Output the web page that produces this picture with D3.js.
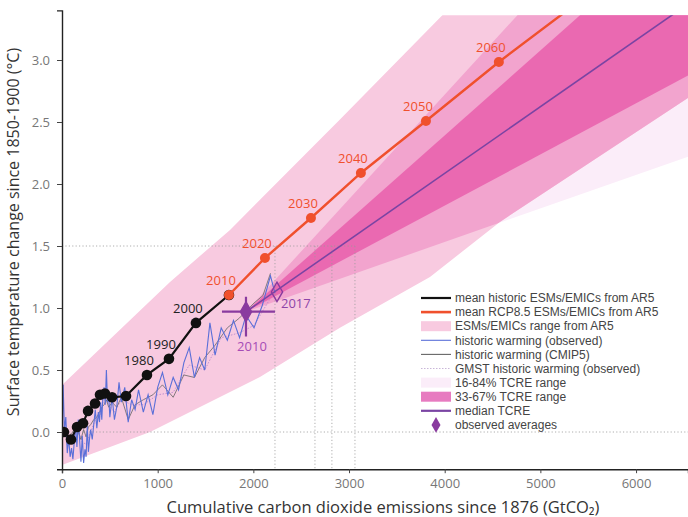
<!DOCTYPE html>
<html><head><meta charset="utf-8">
<script src="https://cdn.jsdelivr.net/npm/d3@7"></script>
<style>
body{margin:0;background:#fff;}
svg{display:block;font-family:"Open Sans",sans-serif;}
</style></head><body><svg id="c" width="688" height="517"></svg>
<script>
// ---------- data ----------
const xTicks = [0, 1000, 2000, 3000, 4000, 5000, 6000];
const yTicks = [0, 0.5, 1.0, 1.5, 2.0, 2.5, 3.0];

// mean historic ESMs/EMICs (decadal)
const histYears = [1880, 1890, 1900, 1910, 1920, 1930, 1940, 1950, 1960, 1970, 1980, 1990, 2000, 2010];
const histX = [20, 94, 157, 220, 272, 345, 397, 449, 523, 669, 888, 1118, 1400, 1745];
const histY = [0.0, -0.06, 0.04, 0.07, 0.17, 0.23, 0.30, 0.31, 0.28, 0.29, 0.46, 0.59, 0.88, 1.105];
const histLabelled = [1980, 1990, 2000];

// mean RCP8.5 ESMs/EMICs
const rcpYears = [2010, 2020, 2030, 2040, 2050, 2060, 2070];
const rcpX = [1745, 2121, 2602, 3124, 3804, 4566, 5400];
const rcpY = [1.105, 1.403, 1.726, 2.089, 2.508, 2.984, 3.47];

// ESMs/EMICs range from AR5
const esmUpperX = [0, 1129, 1756, 2905, 4076, 5000, 6800];
const esmUpperY = [0.38, 1.21, 1.63, 2.52, 3.44, 4.2, 4.2];
const esmLowerX = [0, 920, 2069, 2905, 3846, 4577, 6542, 6800];
const esmLowerY = [-0.266, 0.0, 0.444, 0.84, 1.25, 1.694, 2.694, 2.83];

// TCRE fans from the 2010 observed average
const tcreX = [1923, 6800];
const tcre16 = [0.97, 2.29];
const tcre33 = [0.97, 2.98];
const tcreMed = [0.97, 3.59];
const tcre67 = [0.97, 4.31];
const tcre84 = [0.97, 5.08];

// historic warming (observed)
const obsLineX = [0, 12, 25, 40, 55, 70, 85, 100, 114, 128, 142, 156, 170, 184, 198, 212, 226, 240, 252, 264, 276, 288, 300, 316, 332, 348, 364, 380, 392, 404, 416, 428, 440, 452, 464, 476, 488, 500, 524, 548, 572, 596, 620, 656, 692, 728, 764, 800, 850, 900, 950, 1000, 1050, 1106, 1162, 1218, 1274, 1330, 1384, 1438, 1492, 1546, 1600, 1664, 1728, 1792, 1856, 1923, 2007, 2093, 2179, 2226];
const obsLineY = [-0.10, 0.38, 0.02, 0.12, -0.17, -0.05, -0.20, -0.13, -0.22, -0.08, 0.06, -0.12, 0.10, -0.06, -0.24, -0.03, -0.25, -0.14, -0.20, 0.05, -0.16, -0.05, 0.02, -0.06, 0.06, 0.18, 0.03, 0.16, 0.08, 0.24, 0.10, 0.30, 0.36, 0.22, 0.50, 0.24, 0.30, 0.12, 0.28, 0.10, 0.20, 0.40, 0.24, 0.36, 0.08, 0.26, 0.18, 0.34, 0.16, 0.30, 0.14, 0.36, 0.48, 0.30, 0.44, 0.34, 0.56, 0.68, 0.44, 0.60, 0.50, 0.88, 0.62, 0.84, 0.74, 0.90, 0.76, 0.94, 0.84, 1.02, 1.26, 1.12];

// historic warming (CMIP5)
const cmipX = [0, 25, 55, 85, 114, 142, 170, 198, 226, 252, 276, 300, 332, 364, 392, 416, 440, 464, 488, 524, 572, 620, 692, 764, 850, 950, 1050, 1162, 1274, 1384, 1492, 1600, 1728, 1856, 2007, 2100, 2179];
const cmipY = [0.02, 0.04, -0.10, -0.02, 0.0, 0.04, 0.0, -0.06, 0.02, -0.04, 0.04, 0.06, 0.10, 0.12, 0.16, 0.20, 0.22, 0.26, 0.20, 0.24, 0.20, 0.28, 0.10, 0.22, 0.26, 0.30, 0.38, 0.28, 0.46, 0.44, 0.60, 0.70, 0.84, 0.92, 1.04, 1.10, 1.28];

// GMST historic warming (observed)
const gmstX = [0, 40, 85, 128, 170, 212, 252, 300, 348, 392, 440, 488, 548, 620, 728, 850, 1000, 1162, 1330, 1492, 1664, 1856, 2007, 2179];
const gmstY = [0.0, 0.05, -0.08, -0.04, 0.02, -0.08, -0.10, 0.0, 0.10, 0.12, 0.28, 0.22, 0.16, 0.26, 0.22, 0.22, 0.30, 0.32, 0.54, 0.50, 0.76, 0.80, 0.86, 1.08];

// observed averages
const obsAvgLabel = ["2010", "2017"];
const obsAvgX = [1923, 2247];
const obsAvgY = [0.97, 1.13];
const obsErrX = [1672, 2226];
const obsErrY = [0.77, 1.09];

// 1.5 °C guide lines
const guideLevel = 1.5;
const guideX = [2226, 2644, 2821, 3062];

const legendLabels = [
  "mean historic ESMs/EMICs from AR5",
  "mean RCP8.5 ESMs/EMICs from AR5",
  "ESMs/EMICs range from AR5",
  "historic warming (observed)",
  "historic warming (CMIP5)",
  "GMST historic warming (observed)",
  "16-84% TCRE range",
  "33-67% TCRE range",
  "median TCRE",
  "observed averages"
];

// ---------- drawing ----------
const C = {
  esm: "#f8cae0", lav: "#fbedf9", mid: "#f2a4ce", mag: "#ea69b1",
  red: "#f0502d", purple: "#7a44a3", diamond: "#8a3b9f",
  blue: "#5a6fd8", grey: "#666", gmst: "#b98bcc", guide: "#9a9a9a"
};
const svg = d3.select("#c");
const x = d3.scaleLinear().domain([0, 6543]).range([62, 688]);
const y = d3.scaleLinear().domain([-0.3, 3.4]).range([469.2, 10.4]);
const yTop = 3.36;

const defs = svg.append("defs");
defs.append("clipPath").attr("id", "plot").append("rect")
  .attr("x", 62).attr("y", y(yTop)).attr("width", 626).attr("height", y(-0.3) - y(yTop));

const zip = (xs, ys) => xs.map((v, i) => [v, ys[i]]);
const line = d3.line().x(d => x(d[0])).y(d => y(d[1]));
const poly = (upX, upY, loX, loY) => {
  const pts = zip(upX, upY).concat(zip(loX, loY).reverse());
  return line(pts) + "Z";
};

const esmPath = poly(esmUpperX, esmUpperY, esmLowerX, esmLowerY);
defs.append("clipPath").attr("id", "esmclip").append("path").attr("d", esmPath);

const g = svg.append("g").attr("clip-path", "url(#plot)");
const tcre1684 = poly(tcreX, tcre84, tcreX, tcre16);
const tcre3367 = poly(tcreX, tcre67, tcreX, tcre33);

g.append("path").attr("d", tcre1684).attr("fill", C.lav);
g.append("path").attr("d", esmPath).attr("fill", C.esm);
g.append("g").attr("clip-path", "url(#esmclip)")
  .append("path").attr("d", tcre1684).attr("fill", C.mid);
g.append("path").attr("d", tcre3367).attr("fill", C.mag);

// guides
const dash = "1.2,2.2";
g.append("line").attr("x1", x(0)).attr("x2", x(6543)).attr("y1", y(0)).attr("y2", y(0))
  .attr("stroke", C.guide).attr("stroke-width", 0.8).attr("stroke-dasharray", dash);
g.append("line").attr("x1", x(0)).attr("x2", x(d3.max(guideX))).attr("y1", y(guideLevel)).attr("y2", y(guideLevel))
  .attr("stroke", C.guide).attr("stroke-width", 0.8).attr("stroke-dasharray", dash);
g.selectAll("line.gv").data(guideX).join("line").attr("class", "gv")
  .attr("x1", d => x(d)).attr("x2", d => x(d)).attr("y1", y(guideLevel)).attr("y2", y(-0.3))
  .attr("stroke", C.guide).attr("stroke-width", 0.8).attr("stroke-dasharray", dash);

// observed lines
g.append("path").attr("d", line(zip(gmstX, gmstY))).attr("fill", "none")
  .attr("stroke", C.gmst).attr("stroke-width", 0.9).attr("stroke-dasharray", "1.5,1.5");
g.append("path").attr("d", line(zip(cmipX, cmipY))).attr("fill", "none")
  .attr("stroke", C.grey).attr("stroke-width", 0.8);
g.append("path").attr("d", line(zip(obsLineX, obsLineY))).attr("fill", "none")
  .attr("stroke", C.blue).attr("stroke-width", 1.1);

// median TCRE
g.append("path").attr("d", line(zip(tcreX, tcreMed))).attr("fill", "none")
  .attr("stroke", C.purple).attr("stroke-width", 1.6);

// historic mean
g.append("path").attr("d", line(zip(histX, histY))).attr("fill", "none")
  .attr("stroke", "#111").attr("stroke-width", 2.2);
g.selectAll("circle.h").data(d3.range(histX.length)).join("circle").attr("class", "h")
  .attr("cx", i => x(histX[i])).attr("cy", i => y(histY[i])).attr("r", 5.3).attr("fill", "#111");
// RCP8.5
g.append("path").attr("d", line(zip(rcpX, rcpY))).attr("fill", "none")
  .attr("stroke", C.red).attr("stroke-width", 2.4);
g.selectAll("circle.r").data(d3.range(rcpX.length)).join("circle").attr("class", "r")
  .attr("cx", i => x(rcpX[i])).attr("cy", i => y(rcpY[i])).attr("r", 5).attr("fill", C.red);
g.selectAll("text.r").data(d3.range(rcpX.length).filter(i => rcpY[i] < yTop - 0.2)).join("text").attr("class", "r")
  .attr("x", i => x(rcpX[i]) - 8).attr("y", i => y(rcpY[i]) - 10)
  .attr("text-anchor", "middle").attr("font-size", 13).attr("fill", C.red)
  .text(i => rcpYears[i]);
g.selectAll("text.h").data(d3.range(histX.length).filter(i => histLabelled.includes(histYears[i])))
  .join("text").attr("class", "h")
  .attr("x", i => x(histX[i]) - 8).attr("y", i => y(histY[i]) - 10)
  .attr("text-anchor", "middle").attr("font-size", 13).attr("fill", "#222")
  .text(i => histYears[i]);

// observed averages
g.append("line").attr("x1", x(obsErrX[0])).attr("x2", x(obsErrX[1]))
  .attr("y1", y(obsAvgY[0])).attr("y2", y(obsAvgY[0])).attr("stroke", C.diamond).attr("stroke-width", 2.2);
g.append("line").attr("x1", x(obsAvgX[0])).attr("x2", x(obsAvgX[0]))
  .attr("y1", y(obsErrY[0])).attr("y2", y(obsErrY[1])).attr("stroke", C.diamond).attr("stroke-width", 2.2);
const dsym = d3.symbol().type(d3.symbolDiamond).size(110);
g.selectAll("path.d").data([0, 1]).join("path").attr("class", "d")
  .attr("d", dsym).attr("transform", i => `translate(${x(obsAvgX[i])},${y(obsAvgY[i])})`)
  .attr("fill", i => i === 0 ? C.diamond : "none").attr("stroke", C.diamond).attr("stroke-width", 1.4);
g.append("text").attr("x", x(obsAvgX[0]) + 6).attr("y", y(obsAvgY[0]) + 39)
  .attr("text-anchor", "middle").attr("font-size", 13).attr("fill", "#a64cb6").text(obsAvgLabel[0]);
g.append("text").attr("x", x(obsAvgX[1]) + 4).attr("y", y(obsAvgY[1]) + 16)
  .attr("text-anchor", "start").attr("font-size", 13).attr("fill", "#8e44a8").text(obsAvgLabel[1]);

// axes
const ax = svg.append("g").attr("transform", `translate(0,${y(-0.3)})`)
  .call(d3.axisBottom(x).tickValues(xTicks).tickSize(4).tickPadding(6).tickFormat(d3.format("d")));
const ay = svg.append("g").attr("transform", `translate(${x(0)},0)`)
  .call(d3.axisLeft(y).tickValues(yTicks).tickSize(5).tickPadding(7).tickFormat(d3.format(".1f")));
[ax, ay].forEach(a => {
  a.select(".domain").attr("stroke", "#222").attr("stroke-width", 1.4);
  a.selectAll(".tick line").attr("stroke", "#444");
  a.selectAll(".tick text").attr("font-size", 13).attr("fill", "#777").attr("font-family", "Open Sans, sans-serif");
});

svg.append("text").attr("x", 383).attr("y", 513).attr("text-anchor", "middle")
  .attr("font-size", 16.5).attr("fill", "#333").text("Cumulative carbon dioxide emissions since 1876 (GtCO₂)");
svg.append("text").attr("transform", "translate(19,232) rotate(-90)").attr("text-anchor", "middle")
  .attr("font-size", 16).attr("fill", "#333").text("Surface temperature change since 1850-1900 (°C)");

// legend
const lg = svg.append("g").attr("font-size", 12).attr("fill", "#444")
  .attr("font-family", "Liberation Sans, Arial, sans-serif").attr("letter-spacing", 0);
const ly = i => 298 + i * 14.1;
legendLabels.forEach((t, i) => {
  lg.append("text").attr("x", 455).attr("y", ly(i)).attr("dy", "0.35em").text(t);
});
const sw = (i, col, w, dashA) => lg.append("line").attr("x1", 421).attr("x2", 451)
  .attr("y1", ly(i)).attr("y2", ly(i)).attr("stroke", col).attr("stroke-width", w)
  .attr("stroke-dasharray", dashA || null);
sw(0, "#111", 2.2); sw(1, C.red, 2.6);
lg.append("rect").attr("x", 421).attr("y", ly(2) - 5).attr("width", 30).attr("height", 10).attr("fill", C.esm);
sw(3, C.blue, 1.1); sw(4, C.grey, 1.1); sw(5, "#c9b6d8", 1, "1.5,1.5");
lg.append("rect").attr("x", 421).attr("y", ly(6) - 5).attr("width", 30).attr("height", 10).attr("fill", C.lav);
lg.append("rect").attr("x", 421).attr("y", ly(7) - 5).attr("width", 30).attr("height", 10).attr("fill", "#e77bc0");
sw(8, C.purple, 2.2);
lg.append("path").attr("d", d3.symbol().type(d3.symbolDiamond).size(70))
  .attr("transform", `translate(436,${ly(9)})`).attr("fill", C.diamond);
</script></body></html>
